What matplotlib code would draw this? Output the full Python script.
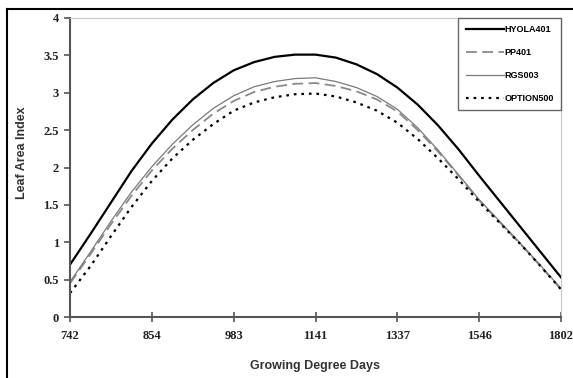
import numpy as np
import matplotlib.pyplot as plt
from matplotlib.lines import Line2D

# growing degree day categories (evenly spaced on the axis)
gdd_labels = ['742', '854', '983', '1141', '1337', '1546', '1802']
# values read at every quarter category step
positions = np.arange(0, 6.01, 0.25)

hyola401 = [0.70, 1.11, 1.53, 1.95, 2.32, 2.64, 2.91, 3.13, 3.30, 3.41, 3.48, 3.51, 3.51,
            3.47, 3.38, 3.25, 3.07, 2.84, 2.56, 2.24, 1.89, 1.55, 1.21, 0.87, 0.53]
pp401 = [0.45, 0.84, 1.24, 1.62, 1.96, 2.25, 2.50, 2.72, 2.89, 3.01, 3.08, 3.12, 3.13,
         3.09, 3.02, 2.91, 2.75, 2.50, 2.21, 1.89, 1.56, 1.27, 0.98, 0.68, 0.37]
rgs003 = [0.47, 0.87, 1.28, 1.67, 2.01, 2.31, 2.57, 2.79, 2.96, 3.08, 3.15, 3.19, 3.20,
          3.15, 3.07, 2.95, 2.78, 2.53, 2.23, 1.90, 1.57, 1.28, 0.99, 0.69, 0.38]
option500 = [0.32, 0.68, 1.08, 1.47, 1.82, 2.12, 2.37, 2.58, 2.76, 2.87, 2.94, 2.98, 2.99,
             2.95, 2.87, 2.76, 2.60, 2.38, 2.12, 1.84, 1.54, 1.26, 0.98, 0.68, 0.37]

yticks = [0, 0.5, 1, 1.5, 2, 2.5, 3, 3.5, 4]
ytick_labels = ['0', '0.5', '1', '1.5', '2', '2.5', '3', '3.5', '4']


def main():
    fig = plt.figure(figsize=(5.73, 3.78), dpi=100)
    ax = fig.add_axes([70/573, 1 - 317/378, (561 - 70)/573, (317 - 18)/378])

    ax.plot(positions, hyola401, color='black', lw=1.6, label='HYOLA401')
    ax.plot(positions, pp401, color='#8a8a8a', lw=1.3, dashes=(6, 3), label='PP401')
    ax.plot(positions, rgs003, color='#7a7a7a', lw=0.9, label='RGS003')
    ax.plot(positions, option500, color='black', lw=1.6, dashes=(1.2, 2.2), label='OPTION500')

    ax.set_xlim(0, 6)
    ax.set_ylim(0, 4)
    ax.set_xticks(range(len(gdd_labels)))
    ax.set_xticklabels(gdd_labels)
    ax.set_yticks(yticks)
    ax.set_yticklabels(ytick_labels)

    for lab in ax.get_xticklabels() + ax.get_yticklabels():
        lab.set_fontfamily('Liberation Serif')
        lab.set_fontweight('bold')
        lab.set_fontsize(9)
        lab.set_color('#222222')

    ax.tick_params(axis='y', direction='out', length=4, width=1.2, color='#555555', pad=4)
    ax.tick_params(axis='x', direction='inout', length=7, width=1.2, color='#555555', pad=6)

    for side in ['left', 'bottom']:
        ax.spines[side].set_color('#555555')
        ax.spines[side].set_linewidth(1.5)
    for side in ['top', 'right']:
        ax.spines[side].set_color('#c8c8c8')
        ax.spines[side].set_linewidth(0.8)

    ax.set_xlabel('Growing Degree Days', fontfamily='Liberation Sans', fontweight='bold',
                  fontsize=9, color='#333333')
    ax.xaxis.set_label_coords(0.5, -0.145)
    ax.set_ylabel('Leaf Area Index', fontfamily='Liberation Sans', fontweight='bold',
                  fontsize=9, color='#333333')
    ax.yaxis.set_label_coords(-0.085, 0.55)

    leg = ax.legend(loc='upper right', bbox_to_anchor=(1.0, 1.0), frameon=True, fancybox=False,
                    handlelength=4.2, handletextpad=0.1, labelspacing=1.55, borderpad=0.8,
                    borderaxespad=0, prop={'family': 'Liberation Sans', 'weight': 'bold', 'size': 6.5})
    leg.get_frame().set_edgecolor('#444444')
    leg.get_frame().set_linewidth(1.0)

    # outer border (top and left only visible)
    fig.add_artist(Line2D([7/573, 7/573], [0, 1 - 9/378], transform=fig.transFigure,
                          color='black', lw=1.5))
    fig.add_artist(Line2D([7/573, 1], [1 - 9/378, 1 - 9/378], transform=fig.transFigure,
                          color='black', lw=1.5))

    plt.savefig('out.png', dpi=100)


if __name__ == '__main__':
    main()
